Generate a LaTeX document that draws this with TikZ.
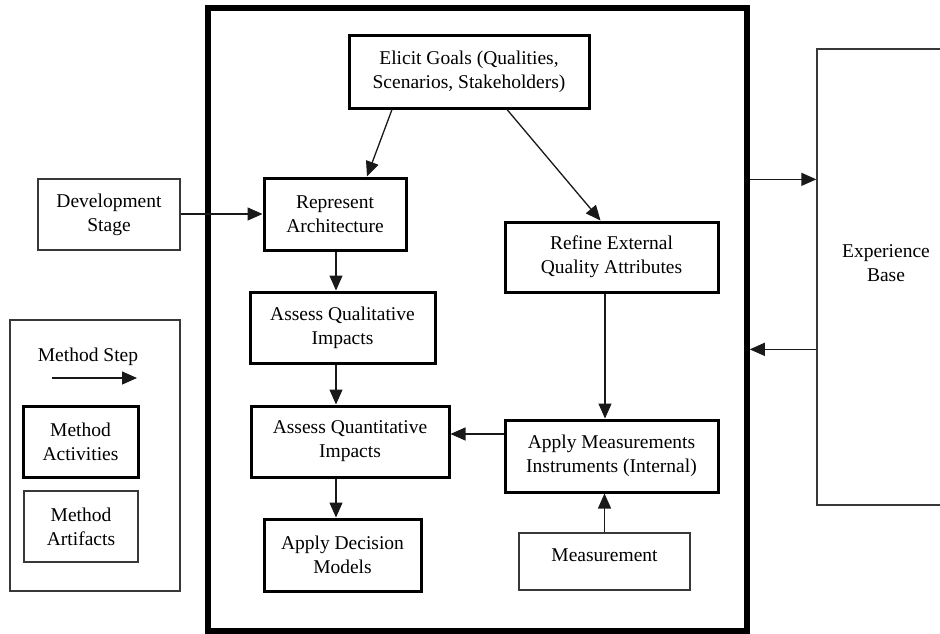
\documentclass[tikz,border=0pt]{standalone}
\usepackage{fontspec}
\setmainfont{Liberation Serif}
\usetikzlibrary{arrows.meta,calc}
\tikzset{
  txt/.style={font=\fontsize{19.5}{24}\selectfont, align=center, inner sep=0pt},
  activity/.style={txt, draw=black, line width=3pt},
  artifact/.style={txt, draw=black!78, line width=1.3pt},
  processframe/.style={draw=black, line width=5.5pt},
  arr/.style={line width=1.3pt, draw=black!90, -{Triangle[length=15pt,width=13pt]}},
}
\begin{document}
\begin{tikzpicture}[x=1pt,y=-1pt]
\useasboundingbox (0,0) rectangle (940,634);
\fill[white] (0,0) rectangle (940,634);

% method frame
\node[processframe, minimum width=539pt, minimum height=623pt] (frame) at (477.5,319.5) {};

% activities inside the frame
\node[activity, minimum width=240pt, minimum height=72pt] (elicit) at (469,72)
  {Elicit Goals (Qualities,\\Scenarios, Stakeholders)};
\node[activity, minimum width=142pt, minimum height=72pt] (represent) at (335,214)
  {Represent\\Architecture};
\node[activity, minimum width=213pt, minimum height=70pt] (refine) at (611.5,257)
  {Refine External\\Quality Attributes};
\node[activity, minimum width=185pt, minimum height=71pt] (qual) at (342.5,327.5)
  {Assess Qualitative\\Impacts};
\node[activity, minimum width=198pt, minimum height=71pt] (quant) at (350,441.5)
  {Assess Quantitative\\Impacts};
\node[activity, minimum width=213pt, minimum height=72pt] (applymeas) at (611.5,456)
  {Apply Measurements\\Instruments (Internal)};
\node[activity, minimum width=157pt, minimum height=72pt] (decision) at (342.5,555)
  {Apply Decision\\Models};
\node[artifact, minimum width=171pt, minimum height=57pt, text depth=13pt] (measurement) at (604.5,561.5)
  {Measurement};

% artifacts outside the frame
\node[artifact, minimum width=142pt, minimum height=71pt] (devstage) at (109,214.5)
  {Development\\Stage};
\node[artifact, minimum width=128pt, minimum height=456pt] (expbase) at (881,277) {};
\node[txt] (expbasetext) at (886,263) {Experience\\Base};

% legend
\node[artifact, minimum width=170pt, minimum height=271pt] (legend) at (95,455.5) {};
\node[txt] (steplabel) at (88,357) {Method Step};
\coordinate (stepa) at (52,378);
\coordinate (stepb) at (137,378);
\node[activity, minimum width=115pt, minimum height=71pt] (legact) at (80.5,441.5)
  {Method\\Activities};
\node[artifact, minimum width=114pt, minimum height=71pt] (legart) at (81,526.5)
  {Method\\Artifacts};

% connectors
\draw[arr] (stepa) -- (stepb);
\draw[arr] ($(elicit.south)+(-77,0)$) -- ($(represent.north)+(32,0)$);
\draw[arr] ($(elicit.south)+(38,0)$) -- ($(refine.north)+(-11,0)$);
\draw[arr] (devstage.east |- represent.west) -- (represent.west);
\draw[arr] ($(represent.south)+(1,0)$) -- ($(qual.north)+(-6.5,0)$);
\draw[arr] ($(qual.south)+(-6.5,0)$) -- ($(quant.north)+(-14,0)$);
\draw[arr] ($(quant.south)+(-14,0)$) -- ($(decision.north)+(-6.5,0)$);
\draw[arr] ($(refine.south)+(-6.5,0)$) -- ($(applymeas.north)+(-6.5,0)$);
\draw[arr] ($(applymeas.west)+(0,-22)$) -- ($(quant.east)+(0,-7.5)$);
\draw[arr] (measurement.north) -- ($(applymeas.south)+(-7,0)$);

% exchange with the experience base
\coordinate (ebin) at ($(expbase.north west)+(0,131)$);
\coordinate (ebout) at ($(expbase.north west)+(0,301)$);
\draw[arr] (frame.east |- ebin) -- (ebin);
\draw[arr] (ebout) -- (frame.east |- ebout);
\end{tikzpicture}
\end{document}
